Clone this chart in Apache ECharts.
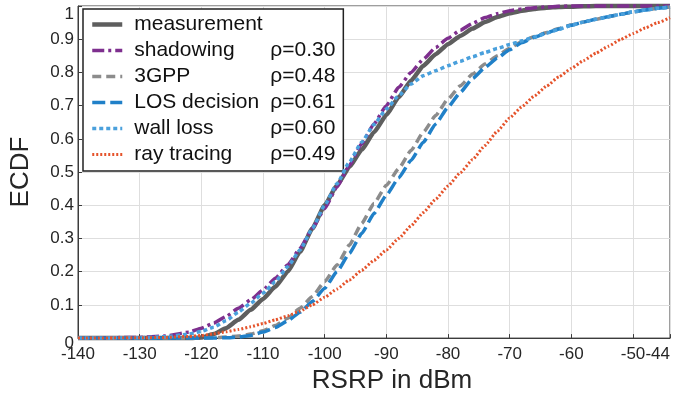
<!DOCTYPE html>
<html>
<head>
<meta charset="utf-8">
<script src="https://cdn.jsdelivr.net/npm/echarts@6/dist/echarts.min.js"></script>
<style>
  html, body { margin: 0; padding: 0; background: #fff; }
  #chart { width: 673px; height: 399px; }
</style>
</head>
<body>
<div id="chart"></div>
<script>
// RSRP grid (dBm) shared by all curves
const rsrp = [-140, -130, -126, -122, -120, -118, -116, -114, -112, -110, -108, -106, -104, -102, -100,
  -98, -96, -94, -92, -90, -88, -86, -84, -82, -80, -78, -76, -74, -72, -70, -68, -66, -64, -62, -60,
  -58, -56, -54, -52, -50, -48, -46, -44];

const measurement = [0, 0, 0, 0, 0.002, 0.012, 0.03, 0.055, 0.085, 0.118, 0.155, 0.2, 0.26, 0.33, 0.4,
  0.46, 0.515, 0.567, 0.62, 0.672, 0.725, 0.775, 0.82, 0.855, 0.885, 0.91, 0.932, 0.952, 0.967, 0.978,
  0.986, 0.991, 0.995, 0.997, 0.998, 0.999, 1, 1, 1, 1, 1, 1, 1];
const shadowing = [0, 0.002, 0.006, 0.018, 0.03, 0.045, 0.065, 0.09, 0.115, 0.145, 0.18, 0.22, 0.27, 0.33, 0.39,
  0.455, 0.52, 0.585, 0.645, 0.7, 0.755, 0.8, 0.84, 0.875, 0.903, 0.927, 0.948, 0.965, 0.977, 0.986,
  0.991, 0.995, 0.997, 0.999, 1, 1, 1, 1, 1, 1, 1, 1, 1];
const gpp3 = [0, 0, 0, 0, 0, 0.001, 0.003, 0.006, 0.012, 0.022, 0.038, 0.06, 0.09, 0.125, 0.17,
  0.22, 0.28, 0.345, 0.405, 0.46, 0.51, 0.565, 0.62, 0.67, 0.72, 0.76, 0.795, 0.825, 0.85, 0.873,
  0.893, 0.908, 0.92, 0.932, 0.943, 0.952, 0.96, 0.968, 0.975, 0.982, 0.988, 0.993, 0.997];
const losDecision = [0, 0, 0, 0, 0, 0, 0.001, 0.003, 0.008, 0.018, 0.032, 0.052, 0.078, 0.11, 0.15,
  0.2, 0.255, 0.315, 0.375, 0.43, 0.482, 0.535, 0.59, 0.645, 0.695, 0.74, 0.782, 0.815, 0.843, 0.868,
  0.89, 0.906, 0.919, 0.931, 0.942, 0.952, 0.96, 0.968, 0.975, 0.982, 0.988, 0.993, 0.997];
const wallLoss = [0, 0.001, 0.004, 0.012, 0.02, 0.033, 0.052, 0.078, 0.105, 0.135, 0.17, 0.215, 0.265, 0.33, 0.4,
  0.465, 0.53, 0.59, 0.643, 0.69, 0.73, 0.765, 0.79, 0.805, 0.82, 0.834, 0.847, 0.86, 0.872, 0.884,
  0.895, 0.907, 0.918, 0.93, 0.942, 0.952, 0.96, 0.968, 0.975, 0.982, 0.988, 0.993, 0.997];
const rayTracing = [0, 0.001, 0.002, 0.005, 0.008, 0.013, 0.019, 0.026, 0.034, 0.044, 0.055, 0.067, 0.081, 0.1, 0.123,
  0.148, 0.175, 0.204, 0.234, 0.265, 0.3, 0.338, 0.378, 0.418, 0.458, 0.498, 0.538, 0.58, 0.623, 0.663,
  0.697, 0.729, 0.759, 0.787, 0.812, 0.836, 0.858, 0.879, 0.899, 0.917, 0.934, 0.95, 0.965];

const names = ["measurement", "shadowing", "3GPP", "LOS decision", "wall loss", "ray tracing"];
const rho = ["", "ρ=0.30", "ρ=0.48", "ρ=0.61", "ρ=0.60", "ρ=0.49"];
const xTicksMin = -140, xTicksMax = -44;

const styles = [
  { color: "#5e5e5e", width: 4.5, type: "solid" },
  { color: "#7e2f8e", width: 3.5, type: [12, 4, 3, 4] },
  { color: "#8c8c8c", width: 3.5, type: [9, 5] },
  { color: "#2080c8", width: 3.5, type: [13, 5] },
  { color: "#4aa0dc", width: 3.5, type: [4, 3] },
  { color: "#e5532b", width: 3, type: [2, 2] },
];
const values = [measurement, shadowing, gpp3, losDecision, wallLoss, rayTracing];

const font = "Arial, 'Liberation Sans', sans-serif";
const chart = echarts.init(document.getElementById("chart"));

chart.setOption({
  animation: false,
  backgroundColor: "#fff",
  grid: { left: 72, right: 2, top: 6, bottom: 53, show: true, borderColor: "#3c3c3c", borderWidth: 1 },
  legend: {
    orient: "vertical",
    left: 83,
    top: 9,
    padding: [5, 8, 6, 7],
    backgroundColor: "#fff",
    borderColor: "#222",
    borderWidth: 1.5,
    borderRadius: 0,
    itemWidth: 30,
    itemHeight: 14,
    itemGap: 5,
    itemStyle: { opacity: 0 },
    data: names.map((n, i) => ({ name: n, itemStyle: { opacity: 0 }, lineStyle: { width: styles[i].width } })),
    formatter: (n) => {
      const r = rho[names.indexOf(n)];
      return "{a|" + n + "}" + (r ? "{b|" + r + "}" : "");
    },
    textStyle: {
      fontFamily: font,
      fontSize: 21,
      color: "#111",
      rich: {
        a: { fontFamily: font, fontSize: 21, color: "#111", width: 136, padding: [0, 0, 0, 7], lineHeight: 20 },
        b: { fontFamily: font, fontSize: 21, color: "#111", lineHeight: 20 },
      },
    },
  },
  xAxis: {
    type: "value",
    min: xTicksMin,
    max: xTicksMax,
    interval: 10,
    name: "RSRP in dBm",
    nameLocation: "middle",
    nameGap: 23,
    nameTextStyle: { fontFamily: font, fontSize: 26, color: "#262626", padding: [0, 0, 0, 36] },
    axisLine: { show: true, lineStyle: { color: "#3c3c3c", width: 1 } },
    axisTick: { show: true, inside: true, length: 4, lineStyle: { color: "#3c3c3c" } },
    axisLabel: { fontFamily: font, fontSize: 17, color: "#262626", margin: 8, alignMaxLabel: "right" },
    splitLine: { show: true, lineStyle: { color: "#dedede", width: 1 } },
  },
  yAxis: {
    type: "value",
    min: 0,
    max: 1,
    interval: 0.1,
    name: "ECDF",
    nameLocation: "middle",
    nameGap: 44,
    nameTextStyle: { fontFamily: font, fontSize: 26, color: "#262626" },
    axisLine: { show: true, lineStyle: { color: "#3c3c3c", width: 1 } },
    axisTick: { show: true, inside: true, length: 4, lineStyle: { color: "#3c3c3c" } },
    axisLabel: {
      fontFamily: font,
      fontSize: 17,
      color: "#262626",
      margin: 4,
      verticalAlignMaxLabel: "top",
      formatter: (v) => {
        if (v === 0) return "{z|0}";
        return v === 1 ? "1" : v.toFixed(1);
      },
      rich: {
        z: { fontFamily: font, fontSize: 17, color: "#262626", padding: [10, 0, 0, 0] },
      },
    },
    splitLine: { show: true, lineStyle: { color: "#dedede", width: 1 } },
  },
  series: names.map((n, i) => ({
    name: n,
    type: "line",
    data: rsrp.map((x, k) => [x, values[i][k]]),
    showSymbol: false,
    symbol: "none",
    smooth: 0.15,
    smoothMonotone: "x",
    clip: false,
    lineStyle: { color: styles[i].color, width: styles[i].width, type: styles[i].type },
    itemStyle: { color: styles[i].color },
    z: 2 + i,
  })),
});
</script>
</body>
</html>
